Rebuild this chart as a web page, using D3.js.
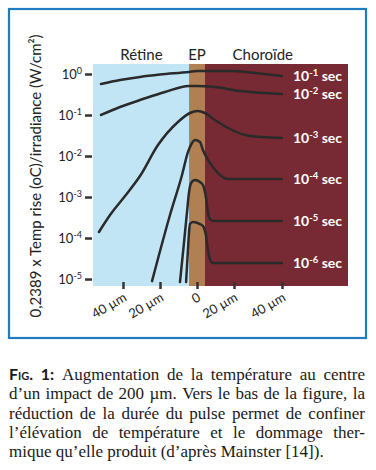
<!DOCTYPE html>
<html>
<head>
<meta charset="utf-8">
<script src="https://cdn.jsdelivr.net/npm/d3@7"></script>
<style>
body{margin:0;background:#fff;}
svg{display:block;}
</style>
</head>
<body>
<svg id="chart" width="376" height="470"></svg>
<script>
// profils de température : [distance (µm, négatif = rétine), valeur]
var pulse1 = [[-51.9,0.57],[-41.6,0.71],[-30.8,0.85],[-20,0.97],[-4.3,1.12],[0,1.18],[17.8,1.18],[28.7,1.06],[40,0.89]];
var pulse2 = [[-51.9,0.10],[-41.6,0.157],[-29.2,0.245],[-17.3,0.364],[-4.3,0.51],[0,0.51],[9.7,0.48],[22.5,0.385],[40,0.325]];
var pulse3 = [[-53,1.4e-4],[-47,3.64e-4],[-38.9,1.06e-3],[-30.8,3.25e-3],[-21.1,1.85e-2],[-10.3,6.75e-2],[-3.8,0.112],[0.5,0.125],[4.3,0.112],[9.7,0.0755],[16.8,0.0482],[24.6,0.0325],[31.7,0.029],[40,0.0275]];
var pulse4 = [[-24.3,8.9e-6],[-14.6,3.64e-4],[-8.1,3.44e-3],[-4.9,1.25e-2],[-2.7,2.07e-2],[-1.1,2.45e-2],[1.6,2.19e-2],[3.2,1.4e-2],[5.4,8.9e-3],[8.6,5.4e-3],[12.4,3.44e-3],[16.8,2.75e-3],[40,2.75e-3]];
var pulse5 = [[-9.2,8.45e-6],[-7.0,7.98e-5],[-5.4,4.3e-4],[-4.3,1.32e-3],[-3.2,2.19e-3],[-1.1,2.6e-3],[1.6,2.32e-3],[3.2,1.96e-3],[4.9,9.5e-4],[5.9,4.3e-4],[7.0,2.9e-4],[8.6,2.6e-4],[40,2.6e-4]];
var pulse6 = [[-5.9,8.45e-6],[-4.9,5.1e-5],[-4.3,1.4e-4],[-3.8,2.19e-4],[-2.2,2.45e-4],[1.6,2.19e-4],[3.2,1.96e-4],[4.9,1.12e-4],[5.9,5.1e-5],[7.0,3.08e-5],[8.6,2.45e-5],[40,2.45e-5]];
var pulseSeries = [pulse1, pulse2, pulse3, pulse4, pulse5, pulse6];
var pulseExp = ['-1','-2','-3','-4','-5','-6'];

var regionNames = ['Rétine','EP','Choroïde'];
var regionBounds = [[-56.2,-4.3],[-4.3,4.3],[4.3,67.5]];
var regionLabelAt = [-30, 0, 32];

var xTicks = [-40,-20,0,20,40];
var xTickLabels = ['40 µm','20 µm','0','20 µm','40 µm'];
var yTicks = [1,1e-1,1e-2,1e-3,1e-4,1e-5];
var yTickExp = ['0','-1','-2','-3','-4','-5'];

var yTitle = '0,2389 x Temp rise (oC)/irradiance (W/cm²)';
var captionLines = [
	'Fig. 1: Augmentation de la température au centre',
	'd’un impact de 200 µm. Vers le bas de la figure, la',
	'réduction de la durée du pulse permet de confiner',
	'l’élévation de température et le dommage ther-',
	'mique qu’elle produit (d’après Mainster [14]).'
];

var regionColors = ['#c1e5f5','#b07f52','#772a33'];
var ink = '#222';
var sans = 'Lato, "Open Sans", sans-serif';

var svg = d3.select('#chart');
svg.append('rect').attr('width',376).attr('height',470).attr('fill','#fff');
// cadre bleu
svg.append('rect')
	.attr('x',9).attr('y',9).attr('width',357).attr('height',329)
	.attr('fill','none').attr('stroke','#1f7cc0').attr('stroke-width',2.2);

// échelle x non linéaire côté choroïde
var x = d3.scaleLinear().domain([-40,-20,0,20,40]).range([123,160,197,234,282]);
var y = d3.scaleLog().domain([Math.pow(10,-5.17), Math.pow(10,0.244)]).range([286,64]);

var plot = svg.append('g');
plot.selectAll('.region')
	.data(regionBounds)
	.enter().append('rect')
	.attr('class','region')
	.attr('x', function(d){ return x(d[0]); })
	.attr('width', function(d){ return x(d[1]) - x(d[0]); })
	.attr('y', y.range()[1])
	.attr('height', y.range()[0] - y.range()[1])
	.attr('fill', function(d,i){ return regionColors[i]; });

plot.selectAll('.region-label')
	.data(regionNames)
	.enter().append('text')
	.attr('x', function(d,i){ return x(regionLabelAt[i]); })
	.attr('y', 60)
	.attr('text-anchor','middle')
	.style('font-family', sans).style('font-size','15px').attr('fill', ink)
	.text(function(d){ return d; });

// axe y
var yAxis = svg.append('g')
	.attr('transform','translate(92,0)')
	.call(d3.axisLeft(y).tickValues(yTicks).tickSize(7).tickPadding(3).tickFormat(''));
yAxis.select('.domain').remove();
yAxis.selectAll('.tick line').attr('stroke','#333').attr('stroke-width',2.5);
yAxis.selectAll('.tick text').each(function(d,i){
	var t = d3.select(this)
		.attr('fill', ink).style('font-family', sans).style('font-size','13px')
		.attr('dy','0.35em');
	t.append('tspan').text('10');
	t.append('tspan').attr('dy',-5).style('font-size','9px').text(yTickExp[i]);
});

// axe x
var xAxis = svg.append('g')
	.attr('transform','translate(0,282)')
	.call(d3.axisBottom(x).tickValues(xTicks).tickSize(7).tickFormat(function(d,i){ return xTickLabels[i]; }));
xAxis.select('.domain').remove();
xAxis.selectAll('.tick line').attr('stroke','#333').attr('stroke-width',2.5);
xAxis.selectAll('.tick text')
	.attr('y',0).attr('dy',0)
	.attr('text-anchor','end')
	.attr('transform','translate(4,18) rotate(-30)')
	.attr('fill', ink).style('font-family', sans).style('font-size','13px');

// courbes
var line = d3.line()
	.x(function(d){ return x(d[0]); })
	.y(function(d){ return y(d[1]); })
	.curve(d3.curveMonotoneX);
plot.selectAll('.pulse')
	.data(pulseSeries)
	.enter().append('path')
	.attr('class','pulse')
	.attr('d', line)
	.attr('fill','none').attr('stroke','#2a2a2a').attr('stroke-width',2.5)
	.attr('stroke-linecap','round');

var labels = plot.selectAll('.pulse-label')
	.data(pulseSeries)
	.enter().append('text')
	.attr('class','pulse-label')
	.attr('x', 293)
	.attr('y', function(d){ return y(d[d.length-1][1]) + 5; })
	.attr('fill','#fff').style('font-family', sans).style('font-size','14px').style('font-weight','bold');
labels.append('tspan').text('10');
labels.append('tspan').attr('dy',-5).style('font-size','9.5px').text(function(d,i){ return pulseExp[i]; });
labels.append('tspan').attr('dy',5).text(' sec');

// titre y
svg.append('text')
	.attr('transform','translate(41,176) rotate(-90)')
	.attr('text-anchor','middle')
	.attr('fill', ink).style('font-family', sans).style('font-size','15px')
	.text(yTitle);

// légende justifiée
var cap = svg.append('g')
	.style('font-family','"Liberation Serif", serif').style('font-size','17px').attr('fill','#1a1a1a');
var capLeft = 9, capWidth = 356, capTop = 380, capStep = 19.3;
captionLines.forEach(function(txt, li){
	var words = txt.split(' ');
	var nodes = words.map(function(w, wi){
		var t = cap.append('text').attr('y', capTop + li*capStep).text(w);
		if(li == 0 && wi < 2){
			t.style('font-weight','bold').style('font-family','Lato, sans-serif').style('font-size','16px');
			if(wi == 0) t.style('font-variant','small-caps');
		}
		return t;
	});
	var widths = nodes.map(function(n){ return n.node().getComputedTextLength(); });
	var gap = li < captionLines.length - 1 ? (capWidth - d3.sum(widths)) / (words.length - 1) : 4.3;
	var cx = capLeft;
	nodes.forEach(function(n, i){
		n.attr('x', cx);
		cx += widths[i] + gap;
	});
});
</script>
</body>
</html>
